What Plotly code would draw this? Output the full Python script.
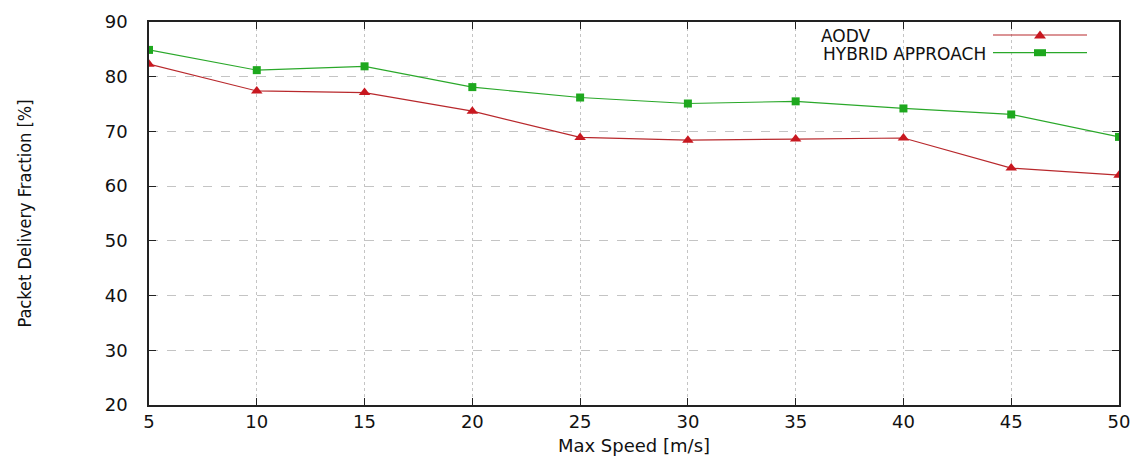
import plotly.graph_objects as go

speed = [5, 10, 15, 20, 25, 30, 35, 40, 45, 50]
aodv = [82.3, 77.4, 77.1, 73.7, 68.9, 68.4, 68.6, 68.8, 63.3, 62.0]
hybrid = [84.9, 81.2, 81.9, 78.1, 76.2, 75.1, 75.5, 74.2, 73.1, 69.0]
y_ticks = [20, 30, 40, 50, 60, 70, 80, 90]
x_ticks = [5, 10, 15, 20, 25, 30, 35, 40, 45, 50]

RED_LINE = "#b8282c"
RED_MK = "#c81820"
GREEN_LINE = "#2aa82a"
GREEN_MK = "#1ea81e"

W, H = 1140, 456
L, R, T, B = 149, 21, 22, 51
PW, PH = W - L - R, H - T - B

def px(x):
    return (x - L) / PW

def py(y):
    return (H - B - y) / PH

fig = go.Figure()
fig.add_trace(go.Scatter(x=speed, y=aodv, mode="lines+markers", name="AODV",
                         line=dict(color=RED_LINE, width=1.2),
                         marker=dict(symbol="triangle-up", size=10, color=RED_MK),
                         showlegend=False))
fig.add_trace(go.Scatter(x=speed, y=hybrid, mode="lines+markers", name="HYBRID APPROACH",
                         line=dict(color=GREEN_LINE, width=1.2),
                         marker=dict(symbol="square", size=8, color=GREEN_MK),
                         showlegend=False))

axis_common = dict(
    showline=True, linecolor="#222", linewidth=1.5, mirror="ticks",
    ticks="inside", ticklen=7, tickcolor="#222", tickwidth=1.3,
    showgrid=True, gridcolor="#c4c4c4", gridwidth=1,
    zeroline=False,
    tickfont=dict(family="DejaVu Sans", size=18, color="#111"),
)

fig.update_xaxes(range=[5, 50], tickvals=x_ticks, griddash="dot",
                 title=dict(text="Max Speed [m/s]", standoff=10,
                            font=dict(family="DejaVu Sans", size=18, color="#111")),
                 ticklabelstandoff=0, **axis_common)
fig.update_yaxes(range=[20, 90], tickvals=y_ticks, griddash="dash",
                 title=dict(text="Packet Delivery Fraction [%]", standoff=68,
                            font=dict(family="Liberation Sans Narrow, DejaVu Sans Condensed", size=18, color="#111")),
                 ticklabelstandoff=16, **axis_common)

shapes = []
# legend background box
shapes.append(dict(type="rect", xref="paper", yref="paper", layer="between",
                   x0=px(805), x1=px(1116), y0=py(78), y1=py(23.5),
                   fillcolor="white", line=dict(width=0)))
# legend sample lines
row_y = {"a": 35, "h": 52.7}
for key, col in (("a", RED_LINE), ("h", GREEN_LINE)):
    shapes.append(dict(type="line", xref="paper", yref="paper",
                       x0=px(993), x1=px(1087), y0=py(row_y[key]), y1=py(row_y[key]),
                       line=dict(color=col, width=1.2)))
mx = 1040
ya = row_y["a"]
shapes.append(dict(type="path", xref="paper", yref="paper",
                   path=f"M{px(mx-6)},{py(ya+3.5)} L{px(mx+6)},{py(ya+3.5)} L{px(mx)},{py(ya-4.5)} Z",
                   fillcolor=RED_MK, line=dict(width=0)))
yh = row_y["h"]
shapes.append(dict(type="rect", xref="paper", yref="paper",
                   x0=px(mx-6), x1=px(mx+6), y0=py(yh+3.5), y1=py(yh-3.5),
                   fillcolor=GREEN_MK, line=dict(width=0)))

annotations = [
    dict(text="AODV", xref="paper", yref="paper", x=px(846), y=py(36),
         xanchor="center", yanchor="middle", showarrow=False,
         font=dict(family="DejaVu Sans", size=17, color="#111")),
    dict(text="HYBRID APPROACH", xref="paper", yref="paper", x=px(988), y=py(53.5),
         xanchor="right", yanchor="middle", showarrow=False,
         font=dict(family="DejaVu Sans", size=17, color="#111")),
]

fig.update_layout(
    width=W, height=H,
    margin=dict(l=L, r=R, t=T, b=B, autoexpand=False),
    paper_bgcolor="white", plot_bgcolor="white",
    shapes=shapes, annotations=annotations,
    showlegend=False,
)

fig.write_html("out.html", config={"displayModeBar": False},
               post_script="document.body.style.margin='0';document.body.style.padding='0';")
